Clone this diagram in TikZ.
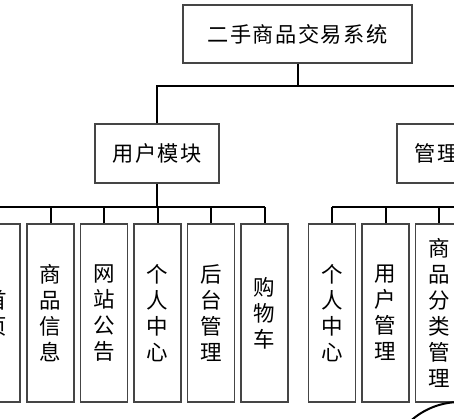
\documentclass[tikz,border=0pt]{standalone}
\usepackage{fontspec}
\newfontfamily\cjk{Noto Sans CJK SC}
\newfontfamily\cjkls[LetterSpace=7]{Noto Sans CJK SC}
\definecolor{boxgray}{HTML}{454545}
\begin{document}
\begin{tikzpicture}[x=1pt,y=-1pt,
  box/.style={draw=boxgray,line width=1.2pt,fill=white,inner sep=0pt},
  topbox/.style={box,minimum width=229pt,minimum height=58pt,font=\cjkls\fontsize{21.2}{25}\selectfont},
  modbox/.style={box,minimum width=124pt,minimum height=59pt,font=\cjkls\fontsize{21.2}{25}\selectfont},
  leafbox/.style={box,minimum width=47pt,minimum height=178pt,align=center,font=\cjk\fontsize{21.5}{26}\selectfont},
  link/.style={draw=black,line width=2pt},
  ring/.style={draw=black,line width=2pt,circle,minimum size=148pt,inner sep=0pt}]
\useasboundingbox (0,0) rectangle (454,418);
\clip (0,0) rectangle (454,418);
\fill[white] (0,0) rectangle (454,418);
\coordinate (busA) at (0,86);
\coordinate (busB) at (0,207);
\coordinate (mEnd) at (480,207);
% nodes
\node[topbox] (top) at (297.5,34) {二手商品交易系统};
\node[modbox] (user) at (157,153.5) {用户模块};
\node[modbox] (mgmt) at (459,153.5) {管理模块};
\node[leafbox] (u1) at (-3.5,313) {首\\页};
\node[leafbox] (u2) at (50.5,313) {商\\品\\信\\息};
\node[leafbox] (u3) at (104,313) {网\\站\\公\\告};
\node[leafbox] (u4) at (157.5,313) {个\\人\\中\\心};
\node[leafbox] (u5) at (211,313) {后\\台\\管\\理};
\node[leafbox] (u6) at (264.5,313) {购\\物\\车};
\node[leafbox] (m1) at (332,313) {个\\人\\中\\心};
\node[leafbox] (m2) at (385.5,313) {用\\户\\管\\理};
\node[leafbox] (m3) at (439,313) {商\\品\\分\\类\\管\\理};
\node[ring] (ring) at (460,476) {};
% connectors
\draw[link] (top.south) -- (top.south |- busA);
\draw[link] (user.north) -- (user.north |- busA) -- (mgmt.north |- busA) -- (mgmt.north);
\draw[link] (user.south) -- (user.south |- busB);
\draw[link] (u1.north |- busB) -- (u6.north |- busB);
\foreach \n in {u1,u2,u3,u4,u5,u6,m1,m2,m3} {
  \draw[link] (\n.north) -- (\n.north |- busB);
}
\draw[link] (m1.north |- busB) -- (mEnd);
\draw[link] (mgmt.south) -- (mgmt.south |- busB);
\end{tikzpicture}
\end{document}
